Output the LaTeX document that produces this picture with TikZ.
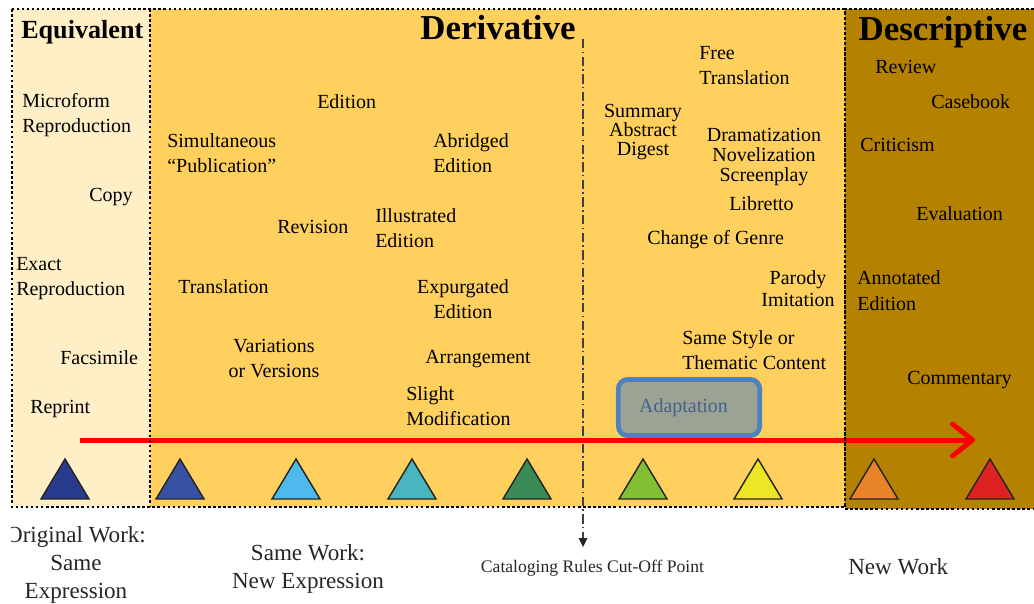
\documentclass[tikz,border=0pt]{standalone}
\usepackage{fontspec}
\setmainfont{Liberation Serif}
\usetikzlibrary{arrows.meta}
\definecolor{cream}{HTML}{FFEFC7}
\definecolor{deriv}{HTML}{FFD05E}
\definecolor{descr}{HTML}{B58100}
\definecolor{adfill}{HTML}{9CA394}
\definecolor{adborder}{HTML}{4F81BD}
\definecolor{adtext}{HTML}{44628C}
\definecolor{tA}{HTML}{283A8C}
\definecolor{tB}{HTML}{3752A3}
\definecolor{tC}{HTML}{4DB9EC}
\definecolor{tD}{HTML}{4AB5BF}
\definecolor{tE}{HTML}{398A55}
\definecolor{tF}{HTML}{83BF33}
\definecolor{tG}{HTML}{EDE624}
\definecolor{tH}{HTML}{E8832A}
\definecolor{tI}{HTML}{DE2121}
\definecolor{redline}{HTML}{FF0000}
\begin{document}
\begin{tikzpicture}[x=0.75pt,y=-0.75pt,
  lbl/.style={inner sep=0pt, anchor=north west, align=left, text=black, font=\rmfamily\fontsize{15}{18.75}\selectfont},
  lblc/.style={lbl, anchor=north, align=center},
  ttlA/.style={inner sep=0pt, anchor=north west, font=\rmfamily\fontsize{19.6}{22}\selectfont\bfseries},
  ttlB/.style={inner sep=0pt, anchor=north, font=\rmfamily\fontsize{26.2}{30}\selectfont\bfseries},
  botlbl/.style={inner sep=0pt, anchor=north, align=center, text=black!85, font=\rmfamily\fontsize{17.3}{21}\selectfont},
  dotborder/.style={draw=black, line width=1.9pt, dash pattern=on 1.9pt off 1.9pt},
  cutline/.style={draw=black!75, line width=1.1pt, dash pattern=on 7pt off 2.5pt on 1.2pt off 2.5pt},
  tri/.style={draw=black!85, line width=1.1pt, line join=miter},
  redarrow/.style={draw=redline, line width=3.75pt, -{Straight Barb[length=15pt, width=24pt, round]}}
]
\useasboundingbox (0,0) rectangle (1034,603);
% panels
\fill[cream] (12,9) rectangle (150,507);
\fill[deriv] (150,9) rectangle (845,507);
\fill[descr] (845,9) rectangle (1034,509);

% cut-off line
\coordinate (cutTop) at (583,39);
\coordinate (cutEnd) at (583,547);
\draw[cutline] (cutTop) -- (583,538);
\fill[black!85] (578.5,538) -- (587.5,538) -- (cutEnd) -- cycle;

% titles
\node[ttlA] (equiv) at (21,20.4) {Equivalent};
\node[ttlB] (deriv) at (498,14.5) {Derivative};
\node[ttlB] (descr) at (943,15.5) {Descriptive};

% equivalent labels
\node[lbl] (micro) at (22,93.5) {Microform\\Reproduction};
\node[lbl] (copy) at (89,187.5) {Copy};
\node[lbl] (exact) at (16,257.5) {Exact\\Reproduction};
\node[lbl] (facs) at (60,350.5) {Facsimile};
\node[lbl] (reprint) at (30,399.5) {Reprint};

% derivative labels (left)
\node[lbl] (edition) at (317,94.5) {Edition};
\node[lbl] (simul) at (167,133.5) {Simultaneous\\``Publication''};
\node[lbl] (abridged) at (433,133.5) {Abridged\\Edition};
\node[lbl] (revision) at (277,219.5) {Revision};
\node[lbl] (illus) at (375,208.5) {Illustrated\\Edition};
\node[lbl] (transl) at (178,279.5) {Translation};
\node[lblc] (expurg) at (463,279.5) {Expurgated\\Edition};
\node[lblc] (variat) at (274,338.5) {Variations\\or Versions};
\node[lbl] (arrang) at (425,350.5) {Arrangement};
\node[lbl] (slight) at (406,386.5) {Slight\\Modification};

% derivative labels (right)
\node[lblc, font=\rmfamily\fontsize{15}{14.6}\selectfont] (summary) at (643,103.5) {Summary\\Abstract\\Digest};
\node[lbl] (free) at (699,46.5) {Free\\Translation};
\node[lblc, font=\rmfamily\fontsize{15}{15}\selectfont] (drama) at (764,127.5) {Dramatization\\Novelization\\Screenplay};
\node[lbl] (libretto) at (729,196.5) {Libretto};
\node[lbl] (genre) at (647,230.5) {Change of Genre};
\node[lblc, font=\rmfamily\fontsize{15}{16.1}\selectfont] (parody) at (798,270.5) {Parody\\Imitation};
\node[lbl] (style) at (682,330.5) {Same Style or\\Thematic Content};

% descriptive labels
\node[lbl] (review) at (875,59.5) {Review};
\node[lbl] (casebook) at (931,94.5) {Casebook};
\node[lbl] (critic) at (860,137.5) {Criticism};
\node[lbl] (evalu) at (916,206.5) {Evaluation};
\node[lbl, font=\rmfamily\fontsize{15}{19.5}\selectfont] (annot) at (857,270.5) {Annotated\\Edition};
\node[lbl] (comment) at (907,370.5) {Commentary};

% red arrow
\coordinate (redS) at (80,440);
\coordinate (redE) at (975,440);
\draw[redarrow] (redS) -- (redE);

% adaptation box
\node[draw=adborder, fill=adfill, line width=3.6pt, rounded corners=7pt, minimum width=106pt, minimum height=42pt, inner sep=0pt] (adapt) at (689,407.5) {};
\node[lbl, anchor=center, text=adtext] (adaptT) at (683.5,407.5) {Adaptation};

% triangles
\foreach \x/\c in {65/tA,180/tB,296/tC,412/tD,527/tE,643/tF,758/tG,874/tH,990/tI}{
  \draw[tri, fill=\c] (\x-24,499) -- (\x,459) -- (\x+24,499) -- cycle;
}

% borders
\draw[dotborder] (12,9) rectangle (845,507);
\draw[dotborder] (150,9) -- (150,507);
\draw[dotborder] (1034,9) -- (845,9) -- (845,509) -- (1034,509);

% bottom labels
\begin{scope}
\clip (11,510) rectangle (200,603);
\node[botlbl] (orig) at (76,526.4) {Original Work:\\Same\\Expression};
\end{scope}
\node[botlbl] (samework) at (308,544.4) {Same Work:\\New Expression};
\node[inner sep=0pt, anchor=north, text=black!85, font=\rmfamily\fontsize{13.2}{15}\selectfont] (cat) at (592.5,560.2) {Cataloging Rules Cut-Off Point};
\node[botlbl, anchor=north west] (newwork) at (848,558.4) {New Work};
\end{tikzpicture}
\end{document}
